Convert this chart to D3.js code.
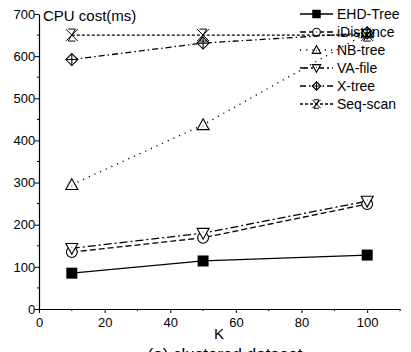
<!DOCTYPE html>
<html>
<head>
<meta charset="utf-8">
<script src="https://cdn.jsdelivr.net/npm/d3@7"></script>
<style>
  body { margin: 0; background: #fff; }
  text { font-family: "Liberation Sans", Arial, sans-serif; }
</style>
</head>
<body>
<script>
var width = 411;
var height = 352;

var kValues = [10, 50, 100];
var ehdTree = [85, 114, 128];
var iDistance = [135, 169, 249];
var nbTree = [295, 437, 655];
var vaFile = [144, 180, 256];
var xTree = [592, 631, 655];
var seqScan = [650, 650, 650];

var xTicks = [0, 20, 40, 60, 80, 100];
var yTicks = [0, 100, 200, 300, 400, 500, 600, 700];

var series = [
  { name: 'EHD-Tree', values: ehdTree, dash: null, marker: 'square' },
  { name: 'iDistance', values: iDistance, dash: '6,3', marker: 'circle' },
  { name: 'NB-tree', values: nbTree, dash: '1.2,5', marker: 'triangle' },
  { name: 'VA-file', values: vaFile, dash: '8,3,2,3', marker: 'triangleDown' },
  { name: 'X-tree', values: xTree, dash: '6,3,1.5,3', marker: 'diamondPlus' },
  { name: 'Seq-scan', values: seqScan, dash: '3,2', marker: 'cross' }
];

var svg = d3.select('body')
            .append('svg')
            .attr('width', width)
            .attr('height', height);

var xScale = d3.scaleLinear().domain([0, 110]).range([39, 400]);
var yScale = d3.scaleLinear().domain([0, 700]).range([309, 14]);

// axes
var xAxis = svg.append('g')
    .attr('transform', 'translate(0,' + yScale(0) + ')')
    .call(d3.axisBottom(xScale).tickValues(xTicks).tickSize(4).tickSizeOuter(0));
xAxis.selectAll('text').attr('font-size', 13).attr('dy', '0.85em').attr('font-family', '"Liberation Sans", Arial, sans-serif');
xAxis.append('g').selectAll('line')
    .data([10, 30, 50, 70, 90, 110])
    .enter().append('line')
    .attr('x1', function (d) { return xScale(d); })
    .attr('x2', function (d) { return xScale(d); })
    .attr('y1', 0).attr('y2', 2)
    .attr('stroke', '#000');

var yAxis = svg.append('g')
    .attr('transform', 'translate(' + xScale(0) + ',0)')
    .call(d3.axisLeft(yScale).tickValues(yTicks).tickSize(4).tickSizeOuter(0));
yAxis.selectAll('text').attr('font-size', 13).attr('dx', '0.25em').attr('font-family', '"Liberation Sans", Arial, sans-serif');
yAxis.append('g').selectAll('line')
    .data([50, 150, 250, 350, 450, 550, 650])
    .enter().append('line')
    .attr('y1', function (d) { return yScale(d); })
    .attr('y2', function (d) { return yScale(d); })
    .attr('x1', 0).attr('x2', -2)
    .attr('stroke', '#000');
svg.selectAll('.domain').attr('stroke', '#000').attr('stroke-width', 1.2);

svg.append('text')
    .attr('x', 43).attr('y', 21)
    .attr('font-size', 15)
    .text('CPU cost(ms)');

svg.append('text')
    .attr('x', 219).attr('y', 339)
    .attr('font-size', 15)
    .attr('text-anchor', 'middle')
    .text('K');

svg.append('text')
    .attr('x', 225).attr('y', 360)
    .attr('font-size', 17)
    .attr('text-anchor', 'middle')
    .attr('font-family', '"Liberation Serif", "Times New Roman", serif')
    .text('(a) clustered dataset');

function drawMarker(g, type, size) {
  var s = size / 2;
  if (type === 'square') {
    g.append('rect').attr('x', -s).attr('y', -s).attr('width', size).attr('height', size)
      .attr('fill', '#000');
  } else if (type === 'circle') {
    g.append('circle').attr('r', s * 0.9).attr('fill', '#fff').attr('stroke', '#000').attr('stroke-width', 1.1);
    g.append('circle').attr('r', 0.6).attr('fill', '#000');
  } else if (type === 'triangle') {
    g.append('path').attr('d', 'M0,' + (-s) + 'L' + s + ',' + (s * 0.8) + 'L' + (-s) + ',' + (s * 0.8) + 'Z')
      .attr('fill', '#fff').attr('stroke', '#000').attr('stroke-width', 1.1);
    g.append('circle').attr('r', 0.5).attr('cy', s * 0.2).attr('fill', '#000');
  } else if (type === 'triangleDown') {
    g.append('path').attr('d', 'M0,' + s + 'L' + s + ',' + (-s * 0.8) + 'L' + (-s) + ',' + (-s * 0.8) + 'Z')
      .attr('fill', '#fff').attr('stroke', '#000').attr('stroke-width', 1.1);
    g.append('circle').attr('r', 0.5).attr('cy', -s * 0.2).attr('fill', '#000');
  } else if (type === 'diamondPlus') {
    g.append('path').attr('d', 'M0,' + (-s) + 'L' + s + ',0L0,' + s + 'L' + (-s) + ',0Z')
      .attr('fill', '#fff').attr('stroke', '#000').attr('stroke-width', 1.1);
    g.append('path').attr('d', 'M0,' + (-s) + 'V' + s + 'M' + (-s) + ',0H' + s)
      .attr('stroke', '#000').attr('stroke-width', 1.1);
  } else if (type === 'cross') {
    g.append('path').attr('d', 'M' + (-s) + ',' + (-s) + 'L' + s + ',' + s + 'M' + s + ',' + (-s) + 'L' + (-s) + ',' + s +
        'M' + (-s * 0.6) + ',' + (-s) + 'L' + (s * 0.6) + ',' + (-s) + 'L' + (-s * 0.6) + ',' + s + 'L' + (s * 0.6) + ',' + s)
      .attr('fill', 'none').attr('stroke', '#000').attr('stroke-width', 1);
  }
}

var line = d3.line()
    .x(function (d, i) { return xScale(kValues[i]); })
    .y(function (d) { return yScale(d); });

series.forEach(function (s) {
  svg.append('path')
      .attr('d', line(s.values))
      .attr('fill', 'none')
      .attr('stroke', '#000')
      .attr('stroke-width', 1.3)
      .attr('stroke-dasharray', s.dash);
});

series.forEach(function (s) {
  s.values.forEach(function (v, i) {
    var g = svg.append('g')
        .attr('transform', 'translate(' + xScale(kValues[i]) + ',' + yScale(v) + ')');
    drawMarker(g, s.marker, s.marker === 'square' ? 11 : 12);
  });
});

// legend
var legend = svg.append('g').attr('transform', 'translate(300,14)');
series.forEach(function (s, i) {
  var row = legend.append('g').attr('transform', 'translate(0,' + (i * 18) + ')');
  row.append('line')
      .attr('x1', 0).attr('x2', 33)
      .attr('stroke', '#000')
      .attr('stroke-width', 1.3)
      .attr('stroke-dasharray', s.dash);
  var m = row.append('g').attr('transform', 'translate(16.5,0)');
  drawMarker(m, s.marker, 8.5);
  row.append('text')
      .attr('x', 37).attr('y', 5)
      .attr('font-size', 14)
      .text(s.name);
});
</script>
</body>
</html>
